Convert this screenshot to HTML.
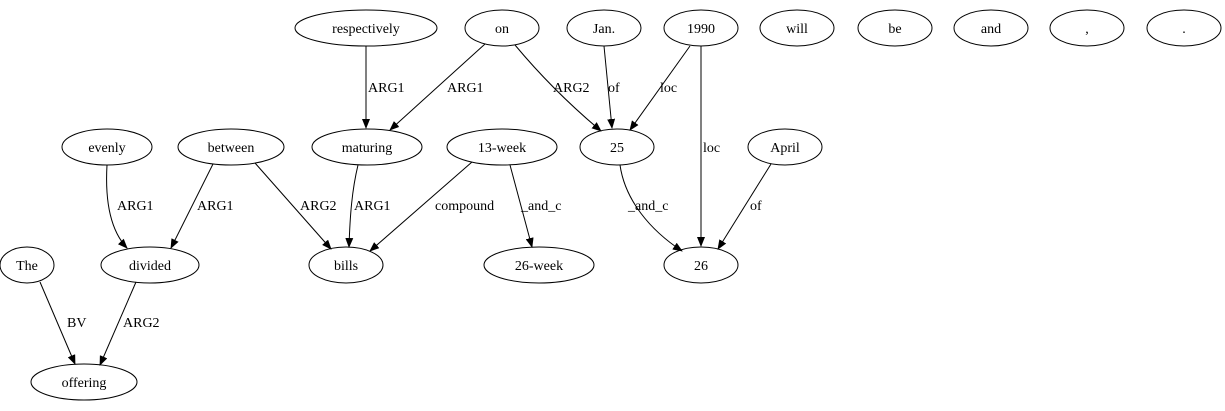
<!DOCTYPE html>
<html><head><meta charset="utf-8"><style>
html,body{margin:0;padding:0;background:#fff;}
svg{display:block;}
text{font-family:"Liberation Serif",serif;font-size:14px;fill:#000;}
</style></head><body>
<svg width="1225" height="411" viewBox="0 0 1225 411" xmlns="http://www.w3.org/2000/svg">
<defs><marker id="a" markerWidth="10" markerHeight="8" refX="9" refY="4" orient="auto" markerUnits="userSpaceOnUse"><path d="M0,0 L10,4 L0,8 z" fill="#000"/></marker></defs>
<g fill="none" stroke="#000" stroke-width="1">
<ellipse cx="366" cy="28" rx="71" ry="18"/>
<ellipse cx="502" cy="28" rx="37" ry="18"/>
<ellipse cx="604" cy="28" rx="37" ry="18"/>
<ellipse cx="701" cy="28" rx="37" ry="18"/>
<ellipse cx="797" cy="28" rx="37" ry="18"/>
<ellipse cx="895" cy="28" rx="37" ry="18"/>
<ellipse cx="991" cy="28" rx="37" ry="18"/>
<ellipse cx="1087" cy="28" rx="37" ry="18"/>
<ellipse cx="1184" cy="28" rx="37" ry="18"/>
<ellipse cx="107" cy="147" rx="45" ry="18"/>
<ellipse cx="231" cy="147" rx="53" ry="18"/>
<ellipse cx="367" cy="147" rx="55" ry="18"/>
<ellipse cx="502" cy="147" rx="55" ry="18"/>
<ellipse cx="617" cy="147" rx="37" ry="18"/>
<ellipse cx="785" cy="147" rx="37" ry="18"/>
<ellipse cx="27" cy="265" rx="27" ry="18"/>
<ellipse cx="150" cy="265" rx="49" ry="18"/>
<ellipse cx="346" cy="265" rx="37" ry="18"/>
<ellipse cx="539" cy="265" rx="55" ry="18"/>
<ellipse cx="701" cy="265" rx="37" ry="18"/>
<ellipse cx="84" cy="382" rx="53" ry="18"/>
<g marker-end="url(#a)">
<path d="M366,46 L366,128"/>
<path d="M485,44 L390,130"/>
<path d="M515,45 C540,75 570,105 601,131"/>
<path d="M604,46 L612,128"/>
<path d="M690,46 L630,130"/>
<path d="M701,46 L701,246"/>
<path d="M771,164 L718,249"/>
<path d="M620,165 C625,200 650,230 682,251"/>
<path d="M107,165 C105,200 110,230 127,248"/>
<path d="M213,164 L171,248"/>
<path d="M255,163 L331,249"/>
<path d="M358,165 C352,190 350,215 349,247"/>
<path d="M472,162 L370,251"/>
<path d="M510,165 L532,247"/>
<path d="M40,282 L75,364"/>
<path d="M136,282 L100,365"/>
</g></g>
<g text-anchor="middle">
<text x="366" y="33">respectively</text>
<text x="502" y="33">on</text>
<text x="604" y="33">Jan.</text>
<text x="701" y="33">1990</text>
<text x="797" y="33">will</text>
<text x="895" y="33">be</text>
<text x="991" y="33">and</text>
<text x="1087" y="33">,</text>
<text x="1184" y="33">.</text>
<text x="107" y="152">evenly</text>
<text x="231" y="152">between</text>
<text x="367" y="152">maturing</text>
<text x="502" y="152">13-week</text>
<text x="617" y="152">25</text>
<text x="785" y="152">April</text>
<text x="27" y="270">The</text>
<text x="150" y="270">divided</text>
<text x="346" y="270">bills</text>
<text x="539" y="270">26-week</text>
<text x="701" y="270">26</text>
<text x="84" y="387">offering</text>
</g>
<g>
<text x="368" y="92">ARG1</text>
<text x="447" y="92">ARG1</text>
<text x="553" y="92">ARG2</text>
<text x="608" y="92">of</text>
<text x="660" y="92">loc</text>
<text x="703" y="152">loc</text>
<text x="750" y="210">of</text>
<text x="628" y="210">_and_c</text>
<text x="117" y="210">ARG1</text>
<text x="197" y="210">ARG1</text>
<text x="300" y="210">ARG2</text>
<text x="354" y="210">ARG1</text>
<text x="435" y="210">compound</text>
<text x="521" y="210">_and_c</text>
<text x="67" y="327">BV</text>
<text x="123" y="327">ARG2</text>
</g>
</svg>
</body></html>
